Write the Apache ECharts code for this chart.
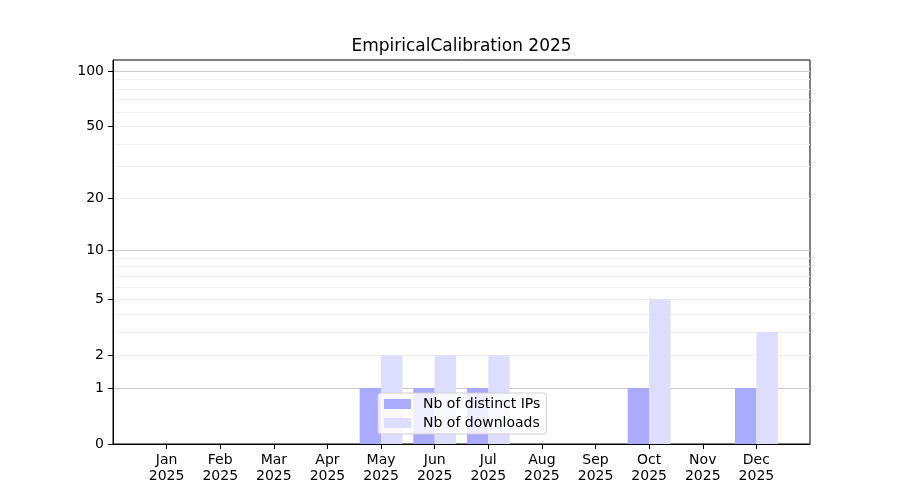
<html>
  <head>
    <meta charset="utf-8">
    <script src="https://cdn.jsdelivr.net/npm/echarts@6/dist/echarts.min.js"></script>
    <style>
      body { margin: 0; background-color: #fff; }
      #chart { width: 900px; height: 500px; }
    </style>
  </head>
  <body>
    <div id="chart"></div>
  </body>
  <script>
    // data
    var months = ['Jan', 'Feb', 'Mar', 'Apr', 'May', 'Jun', 'Jul', 'Aug', 'Sep', 'Oct', 'Nov', 'Dec'];
    var year = '2025';
    var distinctIPs = [0, 0, 0, 0, 1, 1, 1, 0, 0, 1, 0, 1];
    var downloads = [0, 0, 0, 0, 2, 2, 2, 0, 0, 5, 0, 3];
    var yLabelTicks = [0, 1, 2, 5, 10, 20, 50, 100];
    var yMajorGrid = [1, 10, 100];
    var yMinorGrid = [2, 3, 4, 5, 6, 7, 8, 9, 20, 30, 40, 50, 60, 70, 80, 90];
    var yTop = 115;

    // y scale is log10(1 + v)
    function fwd(v) { return Math.log10(1 + v); }
    function inv(t) { return Math.round(Math.pow(10, t) - 1); }

    var font = 'DejaVu Sans';
    var yMax = fwd(yTop);

    function hiddenY(vals, color) {
        return {
            type: 'value', min: 0, max: yMax, position: 'left',
            axisLine: { show: false }, axisLabel: { show: false },
            axisTick: { show: false, customValues: vals.map(fwd) },
            splitLine: { show: true, lineStyle: { color: color, width: 1 } }
        };
    }

    var chart = echarts.init(document.getElementById('chart'));
    var option = {
        animation: false,
        title: {
            text: 'EmpiricalCalibration ' + year,
            left: 461.5, textAlign: 'center', top: 38, padding: 0,
            textStyle: { fontFamily: font, fontSize: 17, fontWeight: 'normal', color: '#000' }
        },
        grid: {
            left: 113, right: 90, top: 60, bottom: 56,
            show: true, borderColor: '#000', borderWidth: 1, backgroundColor: 'transparent'
        },
        legend: {
            orient: 'vertical', left: 378, top: 393,
            padding: [4, 6, 4, 6], itemGap: 5, itemWidth: 27, itemHeight: 10,
            backgroundColor: 'rgba(255,255,255,0.8)', borderColor: '#d0d0d0', borderWidth: 1, borderRadius: 3,
            icon: 'rect',
            textStyle: { fontFamily: font, fontSize: 14, color: '#000', padding: [0, 0, 0, 7] },
            data: ['Nb of distinct IPs', 'Nb of downloads']
        },
        xAxis: {
            type: 'value', min: -1, max: 12,
            axisLine: { lineStyle: { color: '#000' } },
            axisTick: { customValues: months.map(function (m, i) { return i; }), length: 5, lineStyle: { color: '#000' } },
            axisLabel: {
                customValues: months.map(function (m, i) { return i; }),
                formatter: function (v) { return months[v] + '\n' + year; },
                fontFamily: font, fontSize: 14, color: '#000', lineHeight: 16, margin: 8
            },
            splitLine: { show: false }
        },
        yAxis: [
            hiddenY(yMinorGrid, '#f0f0f0'),
            hiddenY(yMajorGrid, '#cccccc'),
            {
                type: 'value', min: 0, max: yMax, position: 'left', offset: 0,
                axisLine: { show: true, lineStyle: { color: '#000' } },
                axisTick: { show: true, customValues: yLabelTicks.map(fwd), length: 5, lineStyle: { color: '#000' } },
                axisLabel: {
                    customValues: yLabelTicks.map(fwd),
                    formatter: function (v) { return String(inv(v)); },
                    fontFamily: font, fontSize: 14, color: '#000', margin: 9
                },
                splitLine: { show: false }
            }
        ],
        series: [
            {
                name: 'Nb of distinct IPs', type: 'bar', yAxisIndex: 2,
                barWidth: 21.4, barGap: '0%',
                itemStyle: { color: '#aaaaff' },
                data: distinctIPs.map(function (v, i) { return [i, fwd(v)]; })
            },
            {
                name: 'Nb of downloads', type: 'bar', yAxisIndex: 2,
                barWidth: 21.4, barGap: '0%',
                itemStyle: { color: '#ddddff' },
                data: downloads.map(function (v, i) { return [i, fwd(v)]; })
            }
        ]
    };
    chart.setOption(option);
  </script>
</html>
